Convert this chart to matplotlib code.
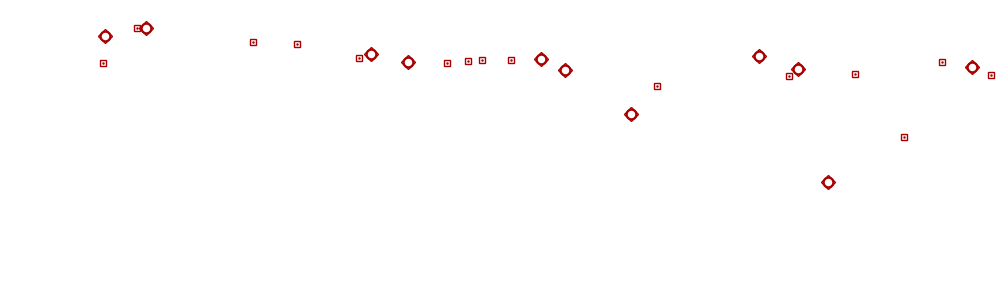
import matplotlib
matplotlib.use("Agg")
import matplotlib.pyplot as plt

# values (x position, height above the bottom edge)
diamond_x = [105, 146, 371, 408, 541, 565, 631, 759, 798, 828, 972]
diamond_y = [250, 258, 232, 224, 227, 216, 172, 230, 217, 104, 219]

square_x = [103, 137, 253, 297, 359, 447, 468, 482, 511, 657, 789, 855, 904, 942, 991]
square_y = [223, 258, 244, 242, 228, 223, 225, 226, 226, 200, 210, 212, 149, 224, 211]

red = "#a80000"

fig = plt.figure(figsize=(9.98, 2.86), dpi=100)
ax = fig.add_axes([0, 0, 1, 1])
ax.set_xlim(0, 998)
ax.set_ylim(0, 286)
ax.axis("off")

ax.plot(square_x, square_y, linestyle="none", marker="s", markersize=4,
        markerfacecolor="white", markeredgecolor=red, markeredgewidth=1.0)
ax.plot(square_x, square_y, linestyle="none", marker=".", markersize=1.5,
        color=red)
ax.plot(diamond_x, diamond_y, linestyle="none", marker="o", markersize=7,
        markerfacecolor="none", markeredgecolor=red, markeredgewidth=1.6)
ax.plot(diamond_x, diamond_y, linestyle="none", marker="D", markersize=7.5,
        markerfacecolor="none", markeredgecolor=red, markeredgewidth=1.0)

fig.savefig("out.png", dpi=100)
